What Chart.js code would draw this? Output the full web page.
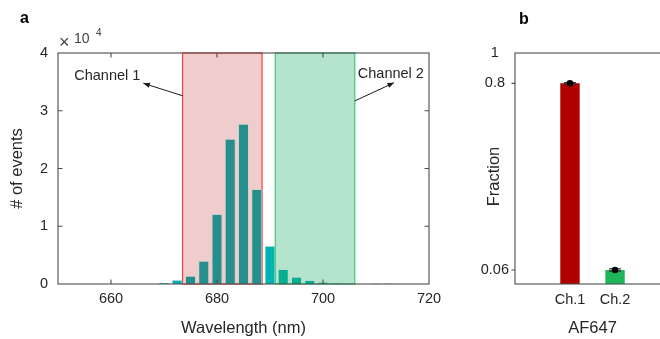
<!DOCTYPE html>
<html>
<head>
<meta charset="utf-8">
<script src="https://cdn.jsdelivr.net/npm/chart.js@4.4.0/dist/chart.umd.min.js"></script>
<style>
  html, body { margin: 0; padding: 0; background: #fff; overflow: hidden; }
  #wrap { position: relative; width: 660px; height: 339px; overflow: hidden; background: #fff; }
  #ca { position: absolute; left: 0; top: 0; }
  #cb { position: absolute; left: 440px; top: 0; }
</style>
</head>
<body>
<div id="wrap">
  <canvas id="ca" width="460" height="339"></canvas>
  <canvas id="cb" width="240" height="339"></canvas>
</div>
<script>
// ---------------- data ----------------
// Panel a: histogram of emission wavelengths (bin centres, nm) and counts
const wavelengths = [662.5, 670, 672.5, 675, 677.5, 680, 682.5, 685, 687.5, 690, 692.5, 695, 697.5, 700, 702.5, 710, 712.5];
const counts      = [90, 220, 700, 1400, 4000, 12100, 25100, 27700, 16400, 6600, 2550, 1220, 650, 350, 180, 130, 130];
const binGroup    = ['out', 'edge', 'edge', 'ch1', 'ch1', 'ch1', 'ch1', 'ch1', 'ch1', 'edge', 'ch2', 'ch2', 'ch2', 'ch2', 'ch2', 'out', 'out'];
const xTicksA = [660, 680, 700, 720];
const yTicksA = [0, 10000, 20000, 30000, 40000];
const channel1Band = [673.5, 688.5];
const channel2Band = [691, 706];
const annotations = [
  { text: 'Channel 1', at: [659.3, 36100], tail: [673.5, 32600], head: [666.1, 34750] },
  { text: 'Channel 2', at: [712.8, 36400], tail: [706.0, 31700], head: [713.4, 34850] }
];
// Panel b: fraction of events per channel
const channels = ['Ch.1', 'Ch.2'];
const fractionMean = [0.80, 0.06];
const fractionErr = [0.004, 0.002];
const yTicksB = [0.06, 0.8, 1];
const sampleName = 'AF647';

// ---------------- styles ----------------
const FONT = '"Liberation Sans", Arial, Helvetica, sans-serif';
const TXT = '#262626';
const AXIS = '#4d4d4d';
Chart.defaults.font.family = FONT;
Chart.defaults.color = TXT;
const groupColor = { out: '#cfcfcf', edge: '#00b3b3', ch1: '#248f8c', ch2: '#00b08f' };

// square-root value scale (panel b)
class SqrtScale extends Chart.LinearScale {
  static id = 'sqrt';
  static defaults = {};
  configure() {
    super.configure();
    this._sMin = Math.sqrt(Math.max(this.min, 0));
    this._sMax = Math.sqrt(Math.max(this.max, 0));
  }
  getPixelForValue(v) {
    const d = (Math.sqrt(Math.max(v, 0)) - this._sMin) / (this._sMax - this._sMin);
    return this.getPixelForDecimal(d);
  }
  getValueForPixel(p) {
    const s = this._sMin + this.getDecimalForPixel(p) * (this._sMax - this._sMin);
    return s * s;
  }
}
Chart.register(SqrtScale);

function arrow(ctx, x0, y0, x1, y1) {
  ctx.beginPath(); ctx.moveTo(x0, y0); ctx.lineTo(x1, y1); ctx.stroke();
  const a = Math.atan2(y1 - y0, x1 - x0), L = 7, w = 0.38;
  ctx.beginPath();
  ctx.moveTo(x1, y1);
  ctx.lineTo(x1 - L * Math.cos(a - w), y1 - L * Math.sin(a - w));
  ctx.lineTo(x1 - L * Math.cos(a + w), y1 - L * Math.sin(a + w));
  ctx.closePath(); ctx.fill();
}

// ---------------- panel a ----------------
const pluginA = {
  id: 'decorA',
  beforeDatasetsDraw(chart) {
    const { ctx, chartArea: ca, scales: { x } } = chart;
    [[channel1Band, '#f0cdcd', '#ff3c3c'], [channel2Band, '#b4e4cc', '#3cc878']].forEach(([b, fill, stroke]) => {
      const x0 = x.getPixelForValue(b[0]), x1 = x.getPixelForValue(b[1]);
      ctx.save();
      ctx.fillStyle = fill;
      ctx.fillRect(x0, ca.top, x1 - x0, ca.bottom - ca.top);
      ctx.strokeStyle = stroke; ctx.lineWidth = 1.2;
      ctx.strokeRect(x0, ca.top, x1 - x0, ca.bottom - ca.top);
      ctx.restore();
    });
  },
  afterDraw(chart) {
    const { ctx, chartArea: ca, scales: { x, y } } = chart;
    ctx.save();
    ctx.strokeStyle = AXIS; ctx.lineWidth = 1.1;
    ctx.strokeRect(ca.left, ca.top, ca.right - ca.left, ca.bottom - ca.top);
    const tl = 4.5;
    ctx.beginPath();
    xTicksA.forEach(v => {
      const px = x.getPixelForValue(v);
      if (px <= ca.left + 1 || px >= ca.right - 1) return;
      ctx.moveTo(px, ca.bottom); ctx.lineTo(px, ca.bottom - tl);
      ctx.moveTo(px, ca.top); ctx.lineTo(px, ca.top + tl);
    });
    yTicksA.forEach(v => {
      const py = y.getPixelForValue(v);
      if (py <= ca.top + 1 || py >= ca.bottom - 1) return;
      ctx.moveTo(ca.left, py); ctx.lineTo(ca.left + tl, py);
      ctx.moveTo(ca.right, py); ctx.lineTo(ca.right - tl, py);
    });
    ctx.stroke();
    // annotations
    ctx.strokeStyle = '#1a1a1a'; ctx.fillStyle = '#1a1a1a'; ctx.lineWidth = 1;
    annotations.forEach(a => {
      arrow(ctx, x.getPixelForValue(a.tail[0]), y.getPixelForValue(a.tail[1]),
                 x.getPixelForValue(a.head[0]), y.getPixelForValue(a.head[1]));
    });
    ctx.fillStyle = TXT;
    ctx.font = '14.5px ' + FONT;
    ctx.textAlign = 'center'; ctx.textBaseline = 'middle';
    annotations.forEach(a => ctx.fillText(a.text, x.getPixelForValue(a.at[0]), y.getPixelForValue(a.at[1])));
    // exponent label
    ctx.textAlign = 'left'; ctx.textBaseline = 'alphabetic';
    ctx.fillStyle = '#404040';
    ctx.font = '18px ' + FONT;
    ctx.fillText('\u00d7', ca.left + 1, ca.top - 5);
    ctx.font = '14px ' + FONT;
    ctx.fillText('10', ca.left + 16, ca.top - 10);
    ctx.font = '10px ' + FONT;
    ctx.fillText('4', ca.left + 38, ca.top - 17);
    // panel letter
    ctx.font = 'bold 16px ' + FONT;
    ctx.fillStyle = '#000';
    ctx.fillText('a', 20, 23);
    ctx.restore();
  }
};

new Chart(document.getElementById('ca'), {
  type: 'bar',
  data: {
    datasets: [{
      data: wavelengths.map((w, i) => ({ x: w, y: counts[i] })),
      backgroundColor: binGroup.map(g => groupColor[g]),
      borderColor: 'rgba(200,205,205,0.9)',
      borderWidth: 0.8,
      barPercentage: 1,
      categoryPercentage: 0.8
    }]
  },
  options: {
    responsive: false,
    animation: false,
    layout: { padding: { top: 53, right: 31, left: 0, bottom: 0 } },
    plugins: { legend: { display: false }, tooltip: { enabled: false } },
    scales: {
      x: {
        type: 'linear', min: 650, max: 720, offset: false,
        grid: { display: false, drawTicks: false }, border: { display: false },
        afterBuildTicks: s => { s.ticks = xTicksA.map(v => ({ value: v })); },
        afterFit: s => { s.height = 55; },
        ticks: { padding: 6, maxRotation: 0, autoSkip: false, color: TXT, font: { size: 14.5 } },
        title: { display: true, text: 'Wavelength (nm)', color: TXT, font: { size: 16.5 }, padding: { top: 0, bottom: 1 } }
      },
      y: {
        min: 0, max: 40000,
        grid: { display: false, drawTicks: false }, border: { display: false },
        afterBuildTicks: s => { s.ticks = yTicksA.map(v => ({ value: v })); },
        afterFit: s => { s.width = 58; },
        ticks: { padding: 10, color: TXT, font: { size: 14.5 }, callback: v => String(v / 10000) },
        title: { display: true, text: '# of events', color: TXT, font: { size: 16.5 }, padding: { top: 8, bottom: 0 } }
      }
    }
  },
  plugins: [pluginA]
});

// ---------------- panel b ----------------
const pluginB = {
  id: 'decorB',
  afterDatasetsDraw(chart) {
    const { ctx, chartArea: ca, scales: { x, y } } = chart;
    ctx.save();
    ctx.strokeStyle = AXIS; ctx.lineWidth = 1.1;
    ctx.strokeRect(ca.left, ca.top, ca.right - ca.left, ca.bottom - ca.top);
    ctx.beginPath();
    yTicksB.forEach(v => {
      const py = y.getPixelForValue(v);
      if (py <= ca.top + 1) return;
      ctx.moveTo(ca.left, py); ctx.lineTo(ca.left - 3.5, py);
    });
    ctx.stroke();
    // error bars with mean markers
    ctx.strokeStyle = '#333'; ctx.fillStyle = '#000'; ctx.lineWidth = 1.2;
    fractionMean.forEach((m, i) => {
      const px = x.getPixelForValue(i + 1);
      const yHi = y.getPixelForValue(m + fractionErr[i]);
      const yLo = y.getPixelForValue(m - fractionErr[i]);
      ctx.beginPath();
      ctx.moveTo(px, yHi); ctx.lineTo(px, yLo);
      ctx.moveTo(px - 6, yHi); ctx.lineTo(px + 6, yHi);
      ctx.moveTo(px - 6, yLo); ctx.lineTo(px + 6, yLo);
      ctx.stroke();
      ctx.beginPath();
      ctx.arc(px, y.getPixelForValue(m), 3.3, 0, Math.PI * 2);
      ctx.fill();
    });
    // y-axis title
    ctx.fillStyle = TXT;
    ctx.font = '16.5px ' + FONT;
    ctx.textAlign = 'center'; ctx.textBaseline = 'middle';
    ctx.save();
    ctx.translate(54, (ca.top + ca.bottom) / 2 + 8);
    ctx.rotate(-Math.PI / 2);
    ctx.fillText('Fraction', 0, 0);
    ctx.restore();
    // panel letter
    ctx.font = 'bold 16px ' + FONT;
    ctx.fillStyle = '#000';
    ctx.textAlign = 'left'; ctx.textBaseline = 'alphabetic';
    ctx.fillText('b', 79, 24);
    ctx.restore();
  }
};

new Chart(document.getElementById('cb'), {
  type: 'bar',
  data: {
    datasets: [{
      data: channels.map((c, i) => ({ x: i + 1, y: fractionMean[i] })),
      backgroundColor: ['#b00000', '#1db45a'],
      borderWidth: 0,
      barPercentage: 1,
      categoryPercentage: 0.43
    }]
  },
  options: {
    responsive: false,
    animation: false,
    layout: { padding: { top: 53, right: 10, left: 0, bottom: 0 } },
    plugins: { legend: { display: false }, tooltip: { enabled: false } },
    scales: {
      x: {
        type: 'linear', min: -0.22, max: 3.22, offset: false,
        grid: { display: false, drawTicks: false }, border: { display: false },
        afterBuildTicks: s => { s.ticks = channels.map((c, i) => ({ value: i + 1 })); },
        afterFit: s => { s.height = 55; },
        ticks: { padding: 7, maxRotation: 0, autoSkip: false, color: TXT, font: { size: 14.5 },
                 callback: v => channels[Math.round(v) - 1] },
        title: { display: true, text: sampleName, color: TXT, font: { size: 16.5 }, padding: { top: 0, bottom: 1 } }
      },
      y: {
        type: 'sqrt', min: 0.0385, max: 1,
        grid: { display: false, drawTicks: false }, border: { display: false },
        afterBuildTicks: s => { s.ticks = yTicksB.map(v => ({ value: v })); },
        afterFit: s => { s.width = 75; },
        ticks: { padding: 6, crossAlign: 'center', color: TXT, font: { size: 14.5 }, callback: v => String(v) }
      }
    }
  },
  plugins: [pluginB]
});
</script>
</body>
</html>
